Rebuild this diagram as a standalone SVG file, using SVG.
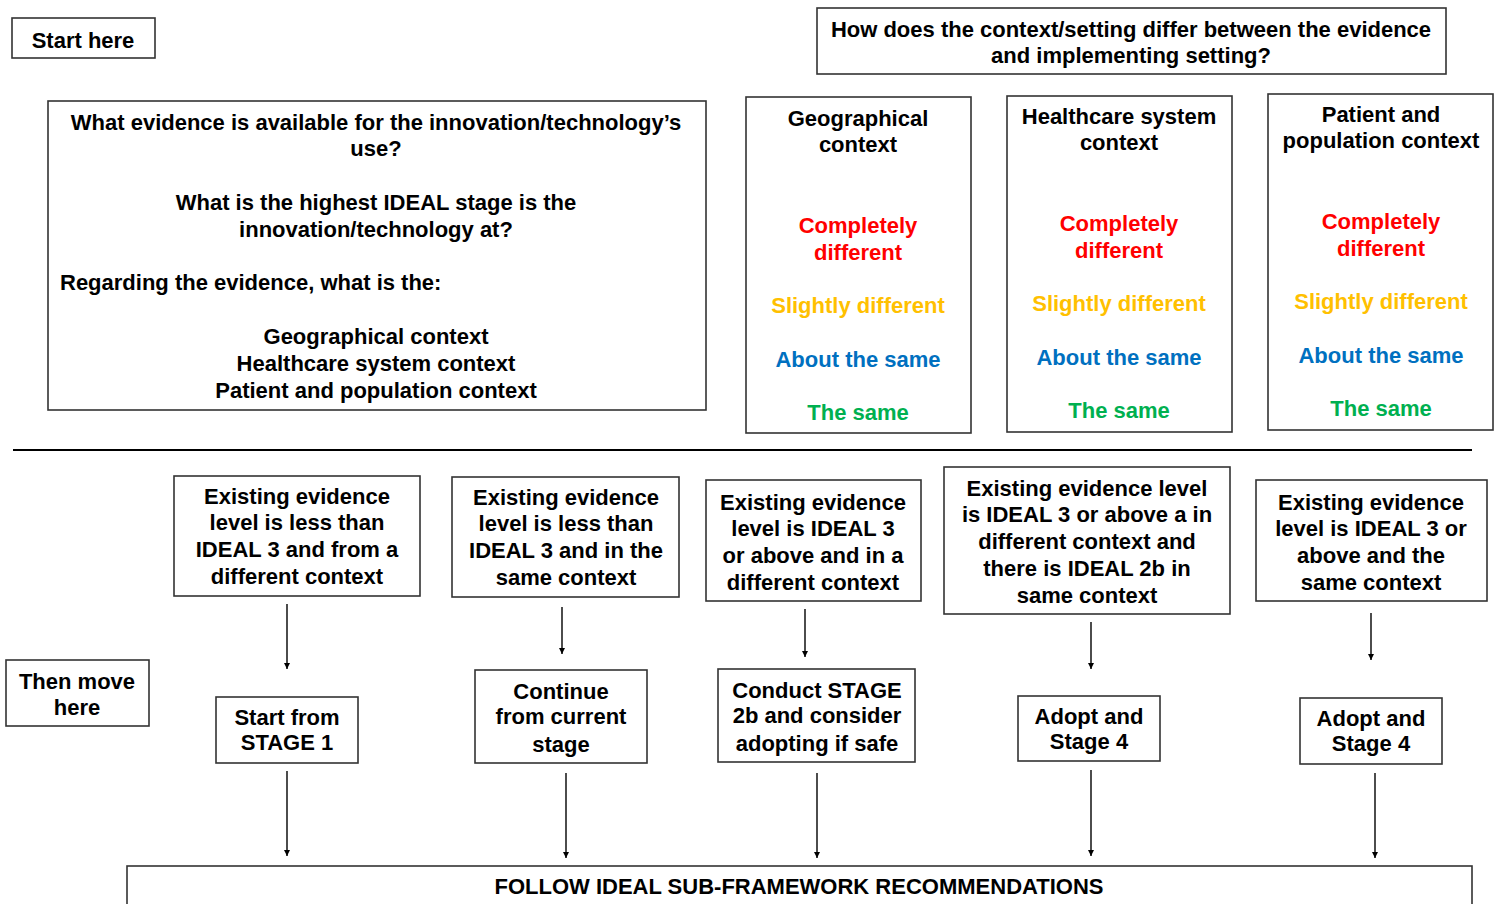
<svg xmlns="http://www.w3.org/2000/svg" width="1500" height="904" viewBox="0 0 1500 904">
  <defs>
    <marker id="arrow" viewBox="0 0 10 10" refX="10" refY="5" markerWidth="6" markerHeight="8" markerUnits="userSpaceOnUse" orient="auto">
      <path d="M0,0 L10,5 L0,10 z" fill="#000"/>
    </marker>
  </defs>
  <style>
    .box { fill: #fff; stroke: #333; stroke-width: 1.6; }
    text { font-family: "Liberation Sans", Arial, sans-serif; font-weight: bold; font-size: 22px; fill: #000; text-anchor: middle; }
    .left { text-anchor: start; }
    .red { fill: #ff0000; }
    .amber { fill: #ffc000; }
    .blue { fill: #0070c0; }
    .green { fill: #00b050; }
    .conn line { stroke: #000; stroke-width: 1.4; marker-end: url(#arrow); }
    .rule { stroke: #000; stroke-width: 2; }
  </style>
  <rect width="1500" height="904" fill="#fff"/>

  <g id="start-here">
    <rect class="box" x="12" y="18" width="143" height="40"/>
    <text x="83" y="48">Start here</text>
  </g>

  <g id="context-question">
    <rect class="box" x="817" y="8" width="629" height="66"/>
    <text x="1131" y="37">How does the context/setting differ between the evidence</text>
    <text x="1131" y="63">and implementing setting?</text>
  </g>

  <g id="evidence-question">
    <rect class="box" x="48" y="101" width="658" height="309"/>
    <text x="376" y="130">What evidence is available for the innovation/technology’s</text>
    <text x="376" y="156">use?</text>
    <text x="376" y="210">What is the highest IDEAL stage is the</text>
    <text x="376" y="237">innovation/technology at?</text>
    <text class="left" x="60" y="290">Regarding the evidence, what is the:</text>
    <text x="376" y="344">Geographical context</text>
    <text x="376" y="371">Healthcare system context</text>
    <text x="376" y="398">Patient and population context</text>
  </g>

  <g id="geographical">
    <rect class="box" x="746" y="97" width="225" height="336"/>
    <text x="858" y="126">Geographical</text>
    <text x="858" y="152">context</text>
    <text class="red" x="858" y="233">Completely</text>
    <text class="red" x="858" y="260">different</text>
    <text class="amber" x="858" y="313">Slightly different</text>
    <text class="blue" x="858" y="367">About the same</text>
    <text class="green" x="858" y="420">The same</text>
  </g>

  <g id="healthcare">
    <rect class="box" x="1007" y="96" width="225" height="336"/>
    <text x="1119" y="124">Healthcare system</text>
    <text x="1119" y="150">context</text>
    <text class="red" x="1119" y="231">Completely</text>
    <text class="red" x="1119" y="258">different</text>
    <text class="amber" x="1119" y="311">Slightly different</text>
    <text class="blue" x="1119" y="365">About the same</text>
    <text class="green" x="1119" y="418">The same</text>
  </g>

  <g id="patient">
    <rect class="box" x="1268" y="94" width="225" height="336"/>
    <text x="1381" y="122">Patient and</text>
    <text x="1381" y="148">population context</text>
    <text class="red" x="1381" y="229">Completely</text>
    <text class="red" x="1381" y="256">different</text>
    <text class="amber" x="1381" y="309">Slightly different</text>
    <text class="blue" x="1381" y="363">About the same</text>
    <text class="green" x="1381" y="416">The same</text>
  </g>

  <line class="rule" x1="13" y1="450" x2="1472" y2="450"/>

  <g id="then-move-here">
    <rect class="box" x="6" y="660" width="143" height="66"/>
    <text x="77" y="689">Then move</text>
    <text x="77" y="715">here</text>
  </g>

  <g id="case-1">
    <rect class="box" x="174" y="476" width="246" height="120"/>
    <text x="297" y="504">Existing evidence</text>
    <text x="297" y="530">level is less than</text>
    <text x="297" y="557">IDEAL 3 and from a</text>
    <text x="297" y="584">different context</text>
  </g>

  <g id="case-2">
    <rect class="box" x="452" y="477" width="227" height="120"/>
    <text x="566" y="505">Existing evidence</text>
    <text x="566" y="531">level is less than</text>
    <text x="566" y="558">IDEAL 3 and in the</text>
    <text x="566" y="585">same context</text>
  </g>

  <g id="case-3">
    <rect class="box" x="706" y="480" width="215" height="121"/>
    <text x="813" y="510">Existing evidence</text>
    <text x="813" y="536">level is IDEAL 3</text>
    <text x="813" y="563">or above and in a</text>
    <text x="813" y="590">different context</text>
  </g>

  <g id="case-4">
    <rect class="box" x="944" y="467" width="286" height="147"/>
    <text x="1087" y="496">Existing evidence level</text>
    <text x="1087" y="522">is IDEAL 3 or above a in</text>
    <text x="1087" y="549">different context and</text>
    <text x="1087" y="576">there is IDEAL 2b in</text>
    <text x="1087" y="603">same context</text>
  </g>

  <g id="case-5">
    <rect class="box" x="1256" y="480" width="231" height="121"/>
    <text x="1371" y="510">Existing evidence</text>
    <text x="1371" y="536">level is IDEAL 3 or</text>
    <text x="1371" y="563">above and the</text>
    <text x="1371" y="590">same context</text>
  </g>

  <g id="action-1">
    <rect class="box" x="216" y="697" width="142" height="66"/>
    <text x="287" y="725">Start from</text>
    <text x="287" y="750">STAGE 1</text>
  </g>

  <g id="action-2">
    <rect class="box" x="475" y="670" width="172" height="93"/>
    <text x="561" y="699">Continue</text>
    <text x="561" y="724">from current</text>
    <text x="561" y="752">stage</text>
  </g>

  <g id="action-3">
    <rect class="box" x="718" y="669" width="197" height="93"/>
    <text x="817" y="698">Conduct STAGE</text>
    <text x="817" y="723">2b and consider</text>
    <text x="817" y="751">adopting if safe</text>
  </g>

  <g id="action-4">
    <rect class="box" x="1018" y="696" width="142" height="65"/>
    <text x="1089" y="724">Adopt and</text>
    <text x="1089" y="749">Stage 4</text>
  </g>

  <g id="action-5">
    <rect class="box" x="1300" y="698" width="142" height="66"/>
    <text x="1371" y="726">Adopt and</text>
    <text x="1371" y="751">Stage 4</text>
  </g>

  <g id="recommendations">
    <rect class="box" x="127" y="866" width="1345" height="60"/>
    <text x="799" y="894">FOLLOW IDEAL SUB-FRAMEWORK RECOMMENDATIONS</text>
  </g>

  <g id="connectors" class="conn">
    <line x1="287" y1="604" x2="287" y2="669"/>
    <line x1="562" y1="607" x2="562" y2="654"/>
    <line x1="805" y1="609" x2="805" y2="657"/>
    <line x1="1091" y1="622" x2="1091" y2="669"/>
    <line x1="1371" y1="613" x2="1371" y2="660"/>
    <line x1="287" y1="771" x2="287" y2="856"/>
    <line x1="566" y1="773" x2="566" y2="858"/>
    <line x1="817" y1="773" x2="817" y2="858"/>
    <line x1="1091" y1="770" x2="1091" y2="856"/>
    <line x1="1375" y1="773" x2="1375" y2="858"/>
  </g>
</svg>
